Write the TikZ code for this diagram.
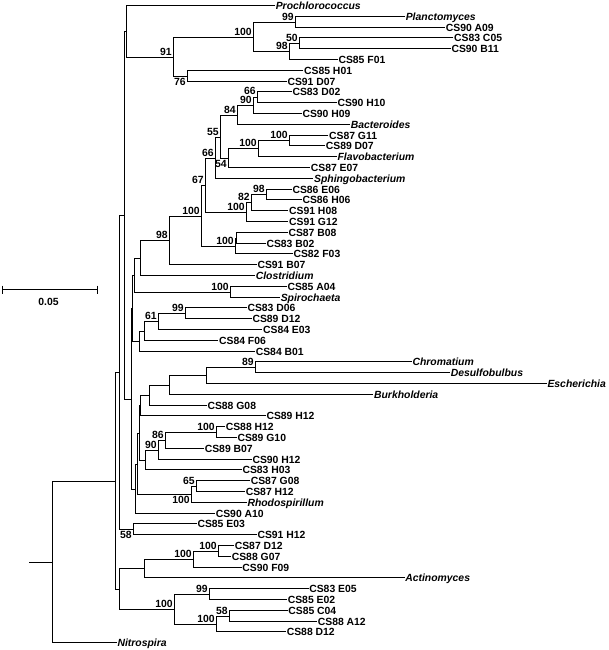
\documentclass[tikz,border=0pt]{standalone}
\usepackage{fontspec}
\setmainfont{Liberation Sans}
\usetikzlibrary{calc}
\newcommand\lfont{\fontsize{10.4}{12}\selectfont\bfseries}
\tikzset{
  br/.style={line width=1.7pt, line join=miter},
  lf/.style={anchor=west, inner sep=0.6pt, font=\lfont, text height=7.5pt, text depth=0pt},
  gn/.style={lf, font=\lfont\itshape},
  bs/.style={inner sep=0.4pt, font=\lfont, text height=7.5pt, text depth=0pt},
  ab/.style={bs, anchor=south east, xshift=-1.2pt, yshift=1.3pt},
  bl/.style={bs, anchor=north east, xshift=-1.2pt, yshift=-1.3pt},
}
\newcommand\inode[4]{\path let \p1=($(#3)!.5!(#4)$), \n1={-(floor(-\y1)+0.5)} in (#2pt,\n1) coordinate (#1);}
\newcommand\brk[3]{\draw[br] (#2) -| (#1) |- (#3);}
\begin{document}
\begin{tikzpicture}[x=1pt,y=-1pt]
\useasboundingbox (0,0) rectangle (609,650);
% leaves
\node[gn] (L1) at (275,5.5) {Prochlorococcus};
\node[gn] (L2) at (405,16.5) {Planctomyces};
\node[lf] (L3) at (445,27.5) {CS90 A09};
\node[lf] (L4) at (453.3,37.5) {CS83 C05};
\node[lf] (L5) at (450.7,48.5) {CS90 B11};
\node[lf] (L6) at (337.7,59.5) {CS85 F01};
\node[lf] (L7) at (303.3,70.5) {CS85 H01};
\node[lf] (L8) at (286.7,81.5) {CS91 D07};
\node[lf] (L9) at (291.7,91.5) {CS83 D02};
\node[lf] (L10) at (336.7,102.5) {CS90 H10};
\node[lf] (L11) at (301.7,113.5) {CS90 H09};
\node[gn] (L12) at (350,124.5) {Bacteroides};
\node[lf] (L13) at (328.3,135.5) {CS87 G11};
\node[lf] (L14) at (325,145.5) {CS89 D07};
\node[gn] (L15) at (336.7,156.5) {Flavobacterium};
\node[lf] (L16) at (310,167.5) {CS87 E07};
\node[gn] (L17) at (313.3,178.5) {Sphingobacterium};
\node[lf] (L18) at (291.7,189.5) {CS86 E06};
\node[lf] (L19) at (301.7,199.5) {CS86 H06};
\node[lf] (L20) at (288.3,210.5) {CS91 H08};
\node[lf] (L21) at (288.3,221.5) {CS91 G12};
\node[lf] (L22) at (287.7,232.5) {CS87 B08};
\node[lf] (L23) at (265.7,243.5) {CS83 B02};
\node[lf] (L24) at (292.7,253.5) {CS82 F03};
\node[lf] (L25) at (256.7,264.5) {CS91 B07};
\node[gn] (L26) at (255,275.5) {Clostridium};
\node[lf] (L27) at (286.7,286.5) {CS85 A04};
\node[gn] (L28) at (280,297.5) {Spirochaeta};
\node[lf] (L29) at (246.7,307.5) {CS83 D06};
\node[lf] (L30) at (251.7,318.5) {CS89 D12};
\node[lf] (L31) at (262.3,329.5) {CS84 E03};
\node[lf] (L32) at (218.3,340.5) {CS84 F06};
\node[lf] (L33) at (255,351.5) {CS84 B01};
\node[gn] (L34) at (411.7,361.5) {Chromatium};
\node[gn] (L35) at (450,372.5) {Desulfobulbus};
\node[gn] (L36) at (546.7,383.5) {Escherichia};
\node[gn] (L37) at (373.3,394.5) {Burkholderia};
\node[lf] (L38) at (206.7,405.5) {CS88 G08};
\node[lf] (L39) at (265.7,415.5) {CS89 H12};
\node[lf] (L40) at (225,426.5) {CS88 H12};
\node[lf] (L41) at (236.7,437.5) {CS89 G10};
\node[lf] (L42) at (204,448.5) {CS89 B07};
\node[lf] (L43) at (251.7,459.5) {CS90 H12};
\node[lf] (L44) at (241.7,469.5) {CS83 H03};
\node[lf] (L45) at (250,480.5) {CS87 G08};
\node[lf] (L46) at (245,491.5) {CS87 H12};
\node[gn] (L47) at (246.7,502.5) {Rhodospirillum};
\node[lf] (L48) at (215,513.5) {CS90 A10};
\node[lf] (L49) at (196.7,523.5) {CS85 E03};
\node[lf] (L50) at (256.7,534.5) {CS91 H12};
\node[lf] (L51) at (234,545.5) {CS87 D12};
\node[lf] (L52) at (231,556.5) {CS88 G07};
\node[lf] (L53) at (241.6,567.5) {CS90 F09};
\node[gn] (L54) at (404.5,577.5) {Actinomyces};
\node[lf] (L55) at (308.5,588.5) {CS83 E05};
\node[lf] (L56) at (287,599.5) {CS85 E02};
\node[lf] (L57) at (287.5,610.5) {CS85 C04};
\node[lf] (L58) at (317,621.5) {CS88 A12};
\node[lf] (L59) at (286,631.5) {CS88 D12};
\node[gn] (L60) at (116.7,642.5) {Nitrospira};
% internal nodes
\inode{n50}{299.5}{L4}{L5}
\inode{n99a}{295.5}{L2}{L3}
\inode{n98a}{289.5}{n50}{L6}
\inode{n100a}{253.5}{n99a}{n98a}
\inode{n76}{187.5}{L7}{L8}
\inode{n91}{173.5}{n100a}{n76}
\inode{nA}{126.5}{L1}{n91}
\inode{n66b}{257.5}{L9}{L10}
\inode{n90a}{253.5}{n66b}{L11}
\inode{n84}{237.5}{n90a}{L12}
\inode{n100e}{289.5}{L13}{L14}
\inode{n100d}{258.5}{n100e}{L15}
\inode{n54}{228.5}{n100d}{L16}
\inode{n55}{220.5}{n84}{n54}
\inode{n66a}{215.5}{n55}{L17}
\inode{n98c}{266.5}{L18}{L19}
\inode{n82}{251.5}{n98c}{L20}
\inode{n100c}{246.5}{n82}{L21}
\inode{n67}{205.5}{n66a}{n100c}
\inode{nB08s}{236.5}{L22}{L23}
\inode{nB08}{235.5}{nB08s}{L24}
\inode{n100b}{201.5}{n67}{nB08}
\inode{n98b}{169.5}{n100b}{L25}
\inode{nClo}{140.5}{n98b}{L26}
\inode{nSpi}{230.5}{L27}{L28}
\inode{nX1}{134.5}{nClo}{nSpi}
\inode{n99b}{185.5}{L29}{L30}
\inode{n61}{158.5}{n99b}{L31}
\inode{nF06}{144.5}{n61}{L32}
\inode{nB01}{139.5}{nF06}{L33}
\inode{nX2}{132.5}{nX1}{nB01}
\inode{n89}{255.5}{L34}{L35}
\inode{nEsch}{206.5}{n89}{L36}
\inode{nBurk}{169.5}{nEsch}{L37}
\inode{nG08}{149.5}{nBurk}{L38}
\inode{nP1}{140.5}{nG08}{L39}
\inode{n100H}{216.5}{L40}{L41}
\inode{n86}{165.5}{n100H}{L42}
\inode{n90b}{158.5}{n86}{L43}
\inode{nH03}{145.5}{n90b}{L44}
\inode{nE}{139.5}{nP1}{nH03}
\inode{n65}{196.5}{L45}{L46}
\inode{n100R}{191.5}{n65}{L47}
\inode{nF}{137.5}{nE}{n100R}
\inode{nD}{135.5}{nF}{L48}
\inode{nC}{131.5}{nX2}{nD}
\inode{nN4}{124.5}{nA}{nC}
\inode{n58}{133.5}{L49}{L50}
\inode{nN2}{119.5}{nN4}{n58}
\inode{n100h}{218.5}{L51}{L52}
\inode{n100g}{193.5}{n100h}{L53}
\inode{nAct}{144.5}{n100g}{L54}
\inode{n99c}{209.5}{L55}{L56}
\inode{n58b}{229.5}{L57}{L58}
\inode{n100i}{216.5}{n58b}{L59}
\inode{n100f}{174.5}{n99c}{n100i}
\inode{nN3}{119.5}{nAct}{n100f}
\inode{nN1}{115.5}{nN2}{nN3}
\inode{nR}{52.5}{nN1}{L60}
% branches
\brk{n50}{L4.west}{L5.west}
\brk{n99a}{L2.west}{L3.west}
\brk{n98a}{n50}{L6.west}
\brk{n100a}{n99a}{n98a}
\brk{n76}{L7.west}{L8.west}
\brk{n91}{n100a}{n76}
\brk{nA}{L1.west}{n91}
\brk{n66b}{L9.west}{L10.west}
\brk{n90a}{n66b}{L11.west}
\brk{n84}{n90a}{L12.west}
\brk{n100e}{L13.west}{L14.west}
\brk{n100d}{n100e}{L15.west}
\brk{n54}{n100d}{L16.west}
\brk{n55}{n84}{n54}
\brk{n66a}{n55}{L17.west}
\brk{n98c}{L18.west}{L19.west}
\brk{n82}{n98c}{L20.west}
\brk{n100c}{n82}{L21.west}
\brk{n67}{n66a}{n100c}
\brk{nB08s}{L22.west}{L23.west}
\brk{nB08}{nB08s}{L24.west}
\brk{n100b}{n67}{nB08}
\brk{n98b}{n100b}{L25.west}
\brk{nClo}{n98b}{L26.west}
\brk{nSpi}{L27.west}{L28.west}
\brk{nX1}{nClo}{nSpi}
\brk{n99b}{L29.west}{L30.west}
\brk{n61}{n99b}{L31.west}
\brk{nF06}{n61}{L32.west}
\brk{nB01}{nF06}{L33.west}
\brk{nX2}{nX1}{nB01}
\brk{n89}{L34.west}{L35.west}
\brk{nEsch}{n89}{L36.west}
\brk{nBurk}{nEsch}{L37.west}
\brk{nG08}{nBurk}{L38.west}
\brk{nP1}{nG08}{L39.west}
\brk{n100H}{L40.west}{L41.west}
\brk{n86}{n100H}{L42.west}
\brk{n90b}{n86}{L43.west}
\brk{nH03}{n90b}{L44.west}
\brk{nE}{nP1}{nH03}
\brk{n65}{L45.west}{L46.west}
\brk{n100R}{n65}{L47.west}
\brk{nF}{nE}{n100R}
\brk{nD}{nF}{L48.west}
\brk{nC}{nX2}{nD}
\brk{nN4}{nA}{nC}
\brk{n58}{L49.west}{L50.west}
\brk{nN2}{nN4}{n58}
\brk{n100h}{L51.west}{L52.west}
\brk{n100g}{n100h}{L53.west}
\brk{nAct}{n100g}{L54.west}
\brk{n99c}{L55.west}{L56.west}
\brk{n58b}{L57.west}{L58.west}
\brk{n100i}{n58b}{L59.west}
\brk{n100f}{n99c}{n100i}
\brk{nN3}{nAct}{n100f}
\brk{nN1}{nN2}{nN3}
\brk{nR}{nN1}{L60.west}
\coordinate (rs) at ([xshift=-23.5pt]nR);
\draw[br] (nR) -- (rs);
% bootstrap values
\node[ab] (b1) at (n99a) {99};
\node[ab] (b2) at (n100a) {100};
\node[ab] (b3) at (n50) {50};
\node[ab] (b4) at (n98a) {98};
\node[ab] (b5) at (n91) {91};
\node[bl] (b6) at (n76) {76};
\node[ab, yshift=1.2pt] (b7) at (n66b) {66};
\node[ab] (b8) at (n90a) {90};
\node[ab] (b9) at (n84) {84};
\node[ab] (b10) at (n55) {55};
\node[ab] (b11) at (n100e) {100};
\node[ab] (b12) at (n100d) {100};
\node[bl] (b13) at (n54) {54};
\node[ab] (b14) at (n66a) {66};
\node[ab] (b15) at (n67) {67};
\node[ab] (b16) at (n98c) {98};
\node[ab] (b17) at (n82) {82};
\node[ab] (b18) at (n100c) {100};
\node[ab] (b19) at (n100b) {100};
\node[ab] (b20) at (nB08) {100};
\node[ab] (b21) at (n98b) {98};
\node[ab] (b22) at (nSpi) {100};
\node[ab] (b23) at (n99b) {99};
\node[ab] (b24) at (n61) {61};
\node[ab] (b25) at (n89) {89};
\node[ab] (b26) at (n100H) {100};
\node[ab] (b27) at (n86) {86};
\node[ab] (b28) at (n90b) {90};
\node[ab] (b29) at (n65) {65};
\node[bl] (b30) at (n100R) {100};
\node[bl] (b31) at (n58) {58};
\node[ab] (b32) at (n100h) {100};
\node[ab] (b33) at (n100g) {100};
\node[ab] (b34) at (n99c) {99};
\node[ab] (b35) at (n100f) {100};
\node[ab] (b36) at (n58b) {58};
\node[ab] (b37) at (n100i) {100};
% scale bar
\coordinate (sb1) at (2.5,289.5);
\coordinate (sb2) at (97.5,289.5);
\coordinate (sbt1) at (2.5,285.5);
\coordinate (sbb1) at (2.5,293.5);
\coordinate (sbt2) at (97.5,285.5);
\coordinate (sbb2) at (97.5,293.5);
\draw[br] (sb1) -- (sb2);
\draw[br] (sbt1) -- (sbb1);
\draw[br] (sbt2) -- (sbb2);
\node[bs] (sblab) at (48.5,301.5) {0.05};
\end{tikzpicture}
\end{document}
